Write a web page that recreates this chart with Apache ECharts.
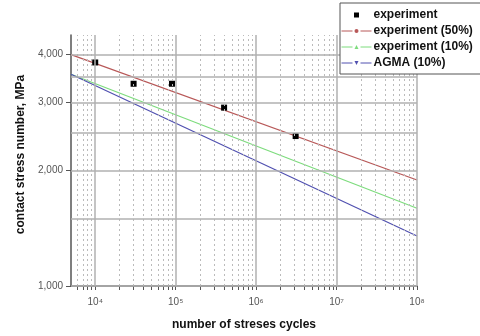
<!DOCTYPE html>
<html>
<head>
<meta charset="utf-8">
<script src="https://cdn.jsdelivr.net/npm/echarts@6/dist/echarts.min.js"></script>
<style>html,body{margin:0;padding:0;background:#fff}#c{width:480px;height:336px}</style>
</head>
<body>
<div id="c"></div>
<script>
// Data
var expCycles = [1.0e4, 3.0e4, 9.0e4, 4.0e5, 3.1e6];
var expStress = [3817, 3360, 3360, 2912, 2456];
var lineCycles = [5000, 1e8];
var exp50Stress = [4000, 1888];
var exp10Stress = [3556, 1594];
var agmaStress = [3556, 1350];
var xMajorTicks = [1e4, 1e5, 1e6, 1e7, 1e8];
var xMinorTicks = [6e3, 7e3, 8e3, 9e3,
  2e4, 3e4, 4e4, 5e4, 6e4, 7e4, 8e4, 9e4,
  2e5, 3e5, 4e5, 5e5, 6e5, 7e5, 8e5, 9e5,
  2e6, 3e6, 4e6, 5e6, 6e6, 7e6, 8e6, 9e6,
  2e7, 3e7, 4e7, 5e7, 6e7, 7e7, 8e7, 9e7];
var yLabelTicks = [1000, 2000, 3000, 4000];
var yGridTicks = [1000, 1500, 2000, 2500, 3000, 3500, 4000];
var seriesNames = ['experiment', 'experiment (50%)', 'experiment (10%)', 'AGMA (10%)'];

var sup = {'4':'\u2074','5':'\u2075','6':'\u2076','7':'\u2077','8':'\u2078'};
function zip(xs, ys) { return xs.map(function (x, i) { return [x, ys[i]]; }); }

var chart = echarts.init(document.getElementById('c'), null, {renderer: 'canvas'});
var font = 'Liberation Sans, Arial, sans-serif';

var option = {
  animation: false,
  backgroundColor: '#fff',
  grid: {left: 71, right: 63, top: 35, bottom: 45, containLabel: false},
  legend: {
    orient: 'vertical',
    left: 340, top: 3,
    padding: [5, 10, 4, 1],
    itemWidth: 30, itemHeight: 5, itemGap: 2,
    backgroundColor: '#fff',
    borderColor: '#555', borderWidth: 1, borderRadius: 0,
    lineStyle: {type: [11, 8], width: 1},
    textStyle: {fontFamily: font, fontSize: 12, fontWeight: 'bold', color: '#111', lineHeight: 14, padding: [0,0,0,-3]},
    data: [
      {name: seriesNames[0], icon: 'path://M0,0M30,5M12.5,0h5v5h-5z'},
      {name: seriesNames[1]},
      {name: seriesNames[2]},
      {name: seriesNames[3]}
    ],
    z: 10
  },
  xAxis: {
    type: 'log', logBase: 10, min: 5000, max: 1e8,
    name: 'number of streses cycles',
    nameLocation: 'middle', nameGap: 33,
    nameTextStyle: {fontFamily: font, fontSize: 12, fontWeight: 'bold', color: '#111'},
    axisLine: {show: true, onZero: false, lineStyle: {color: '#555', width: 1.5}},
    axisTick: {show: true, length: 4, lineStyle: {color: '#555'}, customValues: xMajorTicks.concat(xMinorTicks)},
    axisLabel: {
      customValues: xMajorTicks,
      fontFamily: font, fontSize: 10, color: '#555', margin: 11,
      formatter: function (v) { var e = Math.round(Math.log10(v)); return '10' + (sup[String(e)] || ''); }
    },
    splitLine: {show: false},
    minorTick: {show: false}, minorSplitLine: {show: false}
  },
  yAxis: {
    type: 'log', logBase: 10, min: 1000, max: 4500,
    name: 'contact stress number, MPa',
    nameLocation: 'middle', nameGap: 44, nameRotate: 90,
    nameTextStyle: {fontFamily: font, fontSize: 12, fontWeight: 'bold', color: '#111', padding: [0, 0, 0, 12]},
    axisLine: {show: true, onZero: false, lineStyle: {color: '#555', width: 1.5}},
    axisTick: {show: true, length: 5, lineStyle: {color: '#555'}, customValues: yLabelTicks},
    axisLabel: {
      customValues: yLabelTicks,
      fontFamily: font, fontSize: 10, color: '#555', margin: 8,
      formatter: function (v) { return Math.round(v).toLocaleString('en-US'); }
    },
    splitLine: {show: false},
    minorTick: {show: false}, minorSplitLine: {show: false}
  },
  series: [
    {
      name: 'grid-minor-x', type: 'line', data: [], silent: true, z: 1,
      markLine: {silent: true, symbol: 'none', label: {show: false}, animation: false,
        lineStyle: {color: '#bbb', type: [2, 3], width: 1},
        data: xMinorTicks.map(function (v) { return {xAxis: v}; })}
    },
    {
      name: 'grid-major', type: 'line', data: [], silent: true, z: 1,
      markLine: {silent: true, symbol: 'none', label: {show: false}, animation: false,
        lineStyle: {color: '#b0b0b0', type: 'solid', width: 1.5},
        data: xMajorTicks.map(function (v) { return {xAxis: v}; }).concat(
              yGridTicks.map(function (v) { return {yAxis: v}; }))}
    },
    {
      name: seriesNames[1], type: 'line', data: zip(lineCycles, exp50Stress),
      color: '#b85858', symbol: 'circle', showSymbol: false, z: 3,
      lineStyle: {width: 1.2, color: '#b85858'}
    },
    {
      name: seriesNames[2], type: 'line', data: zip(lineCycles, exp10Stress),
      color: '#7ddc7d', symbol: 'triangle', showSymbol: false, z: 3,
      lineStyle: {width: 1.2, color: '#7ddc7d'}
    },
    {
      name: seriesNames[3], type: 'line', data: zip(lineCycles, agmaStress),
      color: '#5050b0', symbol: 'triangle', symbolRotate: 180, showSymbol: false, z: 3,
      lineStyle: {width: 1.2, color: '#5050b0'}
    },
    {
      name: seriesNames[0], type: 'scatter', data: zip(expCycles, expStress),
      symbol: 'rect', symbolSize: 6, z: 4,
      itemStyle: {color: '#000', opacity: 1, borderWidth: 0}
    }
  ]
};
chart.setOption(option);
</script>
</body>
</html>
